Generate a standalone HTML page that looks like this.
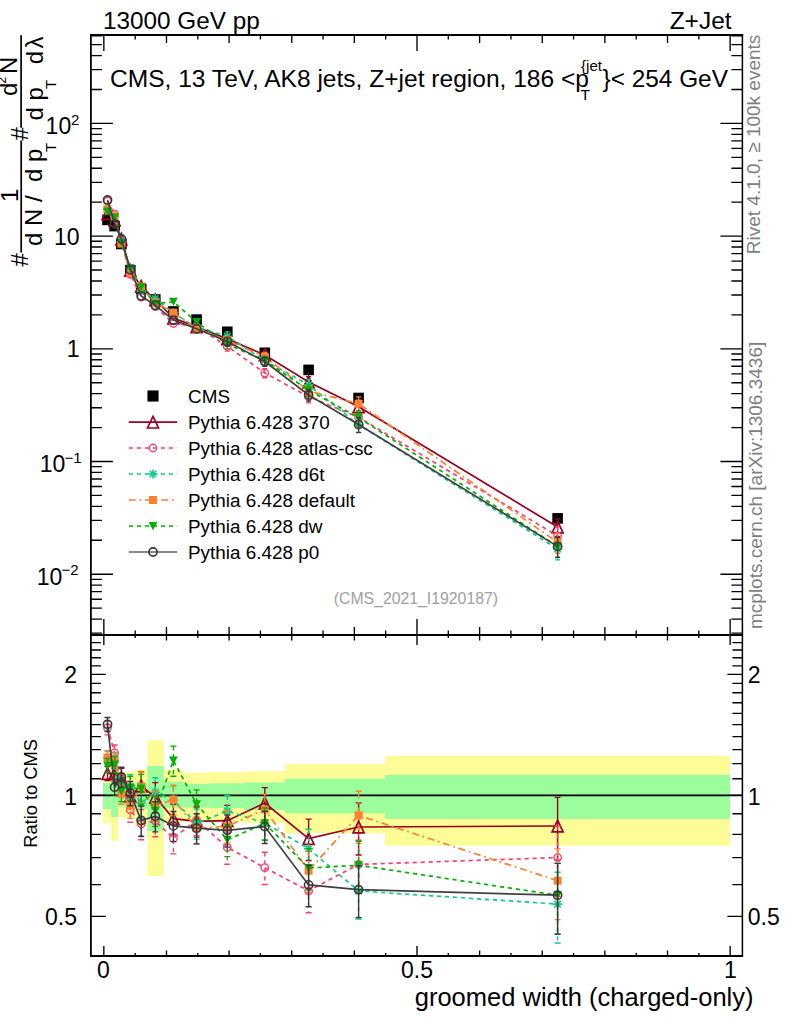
<!DOCTYPE html>
<html><head><meta charset="utf-8"><title>groomed width (charged-only)</title>
<style>html,body{margin:0;padding:0;background:#fff;overflow:hidden}svg{display:block}text{font-family:"Liberation Sans",Arial,Helvetica,sans-serif}</style></head><body>
<svg width="786" height="1024" viewBox="0 0 786 1024">
<rect width="786" height="1024" fill="#fff"/>
<rect x="103" y="778" width="8.1" height="45" fill="#fdfd98"/>
<rect x="103" y="783" width="8.1" height="26" fill="#9bfd9b"/>
<rect x="111.1" y="766" width="7" height="75" fill="#fdfd98"/>
<rect x="111.1" y="776" width="7" height="41" fill="#9bfd9b"/>
<rect x="118.1" y="772" width="6.4" height="45.5" fill="#fdfd98"/>
<rect x="118.1" y="783" width="6.4" height="23.5" fill="#9bfd9b"/>
<rect x="124.5" y="772" width="10.6" height="46" fill="#fdfd98"/>
<rect x="124.5" y="783" width="10.6" height="25" fill="#9bfd9b"/>
<rect x="135.1" y="769.4" width="12.3" height="56.8" fill="#fdfd98"/>
<rect x="135.1" y="782.4" width="12.3" height="26.6" fill="#9bfd9b"/>
<rect x="147.4" y="740.3" width="16.4" height="135.8" fill="#fdfd98"/>
<rect x="147.4" y="766" width="16.4" height="65" fill="#9bfd9b"/>
<rect x="163.8" y="769.4" width="19.4" height="52.6" fill="#fdfd98"/>
<rect x="163.8" y="781.7" width="19.4" height="26" fill="#9bfd9b"/>
<rect x="183.2" y="772.9" width="26.8" height="48.1" fill="#fdfd98"/>
<rect x="183.2" y="783.9" width="26.8" height="23.8" fill="#9bfd9b"/>
<rect x="210" y="772.1" width="34" height="49.7" fill="#fdfd98"/>
<rect x="210" y="783.3" width="34" height="24.7" fill="#9bfd9b"/>
<rect x="244" y="771.4" width="41" height="51.9" fill="#fdfd98"/>
<rect x="244" y="782.5" width="41" height="27.5" fill="#9bfd9b"/>
<rect x="285" y="764" width="100" height="69.2" fill="#fdfd98"/>
<rect x="285" y="778.7" width="100" height="34.7" fill="#9bfd9b"/>
<rect x="385" y="755.8" width="345" height="89.8" fill="#fdfd98"/>
<rect x="385" y="774.9" width="345" height="44" fill="#9bfd9b"/>
<path d="M90.9 795.4H742.4" stroke="#000" stroke-width="1.6"/>
<g clip-path="url(#cu)">
<rect x="102.2" y="214.6" width="10.6" height="10.6" fill="#000"/>
<rect x="109.3" y="220.8" width="10.6" height="10.6" fill="#000"/>
<rect x="116.1" y="238.7" width="10.6" height="10.6" fill="#000"/>
<rect x="125" y="265" width="10.6" height="10.6" fill="#000"/>
<rect x="135.9" y="283.7" width="10.6" height="10.6" fill="#000"/>
<rect x="150" y="294.2" width="10.6" height="10.6" fill="#000"/>
<rect x="168.1" y="306.2" width="10.6" height="10.6" fill="#000"/>
<rect x="191.3" y="314.3" width="10.6" height="10.6" fill="#000"/>
<rect x="222" y="326.5" width="10.6" height="10.6" fill="#000"/>
<rect x="259.5" y="347.5" width="10.6" height="10.6" fill="#000"/>
<rect x="303.3" y="364.6" width="10.6" height="10.6" fill="#000"/>
<rect x="353.3" y="392.7" width="10.6" height="10.6" fill="#000"/>
<rect x="552.3" y="513.1" width="10.6" height="10.6" fill="#000"/>
<polyline points="107.5,213.76 114.6,220.02 121.4,239.12 130.3,270.47 141.2,286.36 155.3,299.95 173.4,318 196.6,326.89 227.3,338.89 264.8,354.93 308.6,382.01 358.6,406.86 557.6,526.98" fill="none" stroke="#9a0020" stroke-width="1.7"/>
<path d="M107.5 207.96L113 219.56L102 219.56Z" fill="none" stroke="#9a0020" stroke-width="1.7" stroke-linejoin="miter"/>
<path d="M114.6 214.22L120.1 225.82L109.1 225.82Z" fill="none" stroke="#9a0020" stroke-width="1.7" stroke-linejoin="miter"/>
<path d="M121.4 233.32L126.9 244.92L115.9 244.92Z" fill="none" stroke="#9a0020" stroke-width="1.7" stroke-linejoin="miter"/>
<path d="M130.3 264.67L135.8 276.27L124.8 276.27Z" fill="none" stroke="#9a0020" stroke-width="1.7" stroke-linejoin="miter"/>
<path d="M141.2 280.56L146.7 292.16L135.7 292.16Z" fill="none" stroke="#9a0020" stroke-width="1.7" stroke-linejoin="miter"/>
<path d="M155.3 294.15L160.8 305.75L149.8 305.75Z" fill="none" stroke="#9a0020" stroke-width="1.7" stroke-linejoin="miter"/>
<path d="M173.4 312.2L178.9 323.8L167.9 323.8Z" fill="none" stroke="#9a0020" stroke-width="1.7" stroke-linejoin="miter"/>
<path d="M196.6 321.09L202.1 332.69L191.1 332.69Z" fill="none" stroke="#9a0020" stroke-width="1.7" stroke-linejoin="miter"/>
<path d="M227.3 334.59V343.62" stroke="#9a0020" stroke-width="1.3" fill="none"/><path d="M224.8 334.59H229.8M224.8 343.62H229.8" stroke="#9a0020" stroke-width="1.3" fill="none"/>
<path d="M227.3 333.09L232.8 344.69L221.8 344.69Z" fill="none" stroke="#9a0020" stroke-width="1.7" stroke-linejoin="miter"/>
<path d="M264.8 350.62V359.65" stroke="#9a0020" stroke-width="1.3" fill="none"/><path d="M262.3 350.62H267.3M262.3 359.65H267.3" stroke="#9a0020" stroke-width="1.3" fill="none"/>
<path d="M264.8 349.13L270.3 360.73L259.3 360.73Z" fill="none" stroke="#9a0020" stroke-width="1.7" stroke-linejoin="miter"/>
<path d="M308.6 376.55V388.16" stroke="#9a0020" stroke-width="1.3" fill="none"/><path d="M306.1 376.55H311.1M306.1 388.16H311.1" stroke="#9a0020" stroke-width="1.3" fill="none"/>
<path d="M308.6 376.21L314.1 387.81L303.1 387.81Z" fill="none" stroke="#9a0020" stroke-width="1.7" stroke-linejoin="miter"/>
<path d="M358.6 400.1V414.7" stroke="#9a0020" stroke-width="1.3" fill="none"/><path d="M356.1 400.1H361.1M356.1 414.7H361.1" stroke="#9a0020" stroke-width="1.3" fill="none"/>
<path d="M358.6 401.06L364.1 412.66L353.1 412.66Z" fill="none" stroke="#9a0020" stroke-width="1.7" stroke-linejoin="miter"/>
<path d="M557.6 518.96V536.57" stroke="#9a0020" stroke-width="1.3" fill="none"/><path d="M555.1 518.96H560.1M555.1 536.57H560.1" stroke="#9a0020" stroke-width="1.3" fill="none"/>
<path d="M557.6 521.18L563.1 532.78L552.1 532.78Z" fill="none" stroke="#9a0020" stroke-width="1.7" stroke-linejoin="miter"/>
<polyline points="107.5,200.92 114.6,214.16 121.4,240.8 130.3,274.34 141.2,297.02 155.3,306.68 173.4,323.5 196.6,326.5 227.3,346.38 264.8,373.04 308.6,396.65 358.6,417.34 557.6,535.84" fill="none" stroke="#ff3c6e" stroke-width="1.7" stroke-dasharray="4.2,3.8"/>
<circle cx="107.5" cy="200.92" r="3.7" fill="none" stroke="#ff3c6e" stroke-width="1.4"/>
<circle cx="114.6" cy="214.16" r="3.7" fill="none" stroke="#ff3c6e" stroke-width="1.4"/>
<circle cx="121.4" cy="240.8" r="3.7" fill="none" stroke="#ff3c6e" stroke-width="1.4"/>
<circle cx="130.3" cy="274.34" r="3.7" fill="none" stroke="#ff3c6e" stroke-width="1.4"/>
<circle cx="141.2" cy="297.02" r="3.7" fill="none" stroke="#ff3c6e" stroke-width="1.4"/>
<circle cx="155.3" cy="306.68" r="3.7" fill="none" stroke="#ff3c6e" stroke-width="1.4"/>
<circle cx="173.4" cy="323.5" r="3.7" fill="none" stroke="#ff3c6e" stroke-width="1.4"/>
<circle cx="196.6" cy="326.5" r="3.7" fill="none" stroke="#ff3c6e" stroke-width="1.4"/>
<path d="M227.3 342.07V351.1" stroke="#ff3c6e" stroke-width="1.3" fill="none" stroke-dasharray="4.2,3.8"/><path d="M224.8 342.07H229.8M224.8 351.1H229.8" stroke="#ff3c6e" stroke-width="1.3" fill="none"/>
<circle cx="227.3" cy="346.38" r="3.7" fill="none" stroke="#ff3c6e" stroke-width="1.4"/>
<path d="M264.8 368.73V377.76" stroke="#ff3c6e" stroke-width="1.3" fill="none" stroke-dasharray="4.2,3.8"/><path d="M262.3 368.73H267.3M262.3 377.76H267.3" stroke="#ff3c6e" stroke-width="1.3" fill="none"/>
<circle cx="264.8" cy="373.04" r="3.7" fill="none" stroke="#ff3c6e" stroke-width="1.4"/>
<path d="M308.6 391.19V402.79" stroke="#ff3c6e" stroke-width="1.3" fill="none" stroke-dasharray="4.2,3.8"/><path d="M306.1 391.19H311.1M306.1 402.79H311.1" stroke="#ff3c6e" stroke-width="1.3" fill="none"/>
<circle cx="308.6" cy="396.65" r="3.7" fill="none" stroke="#ff3c6e" stroke-width="1.4"/>
<path d="M358.6 410.59V425.18" stroke="#ff3c6e" stroke-width="1.3" fill="none" stroke-dasharray="4.2,3.8"/><path d="M356.1 410.59H361.1M356.1 425.18H361.1" stroke="#ff3c6e" stroke-width="1.3" fill="none"/>
<circle cx="358.6" cy="417.34" r="3.7" fill="none" stroke="#ff3c6e" stroke-width="1.4"/>
<path d="M557.6 526.91V546.76" stroke="#ff3c6e" stroke-width="1.3" fill="none" stroke-dasharray="4.2,3.8"/><path d="M555.1 526.91H560.1M555.1 546.76H560.1" stroke="#ff3c6e" stroke-width="1.3" fill="none"/>
<circle cx="557.6" cy="535.84" r="3.7" fill="none" stroke="#ff3c6e" stroke-width="1.4"/>
<polyline points="107.5,209.41 114.6,216.46 121.4,241.36 130.3,267.78 141.2,291.13 155.3,298.6 173.4,312.85 196.6,327.45 227.3,336.2 264.8,360.54 308.6,384.84 358.6,424.8 557.6,548.87" fill="none" stroke="#0ccc88" stroke-width="1.7" stroke-dasharray="4.2,3.8"/>
<path d="M102.9 209.41L112.1 209.41M104.25 206.16L110.75 212.67M107.5 204.81L107.5 214.01M110.75 206.16L104.25 212.67" stroke="#0ccc88" stroke-width="1.6" fill="none"/>
<path d="M110 216.46L119.2 216.46M111.35 213.2L117.85 219.71M114.6 211.86L114.6 221.06M117.85 213.2L111.35 219.71" stroke="#0ccc88" stroke-width="1.6" fill="none"/>
<path d="M116.8 241.36L126 241.36M118.15 238.11L124.65 244.62M121.4 236.76L121.4 245.96M124.65 238.11L118.15 244.62" stroke="#0ccc88" stroke-width="1.6" fill="none"/>
<path d="M125.7 267.78L134.9 267.78M127.05 264.52L133.55 271.03M130.3 263.18L130.3 272.38M133.55 264.52L127.05 271.03" stroke="#0ccc88" stroke-width="1.6" fill="none"/>
<path d="M136.6 291.13L145.8 291.13M137.95 287.88L144.45 294.38M141.2 286.53L141.2 295.73M144.45 287.88L137.95 294.38" stroke="#0ccc88" stroke-width="1.6" fill="none"/>
<path d="M150.7 298.6L159.9 298.6M152.05 295.35L158.55 301.86M155.3 294L155.3 303.2M158.55 295.35L152.05 301.86" stroke="#0ccc88" stroke-width="1.6" fill="none"/>
<path d="M168.8 312.85L178 312.85M170.15 309.59L176.65 316.1M173.4 308.25L173.4 317.45M176.65 309.59L170.15 316.1" stroke="#0ccc88" stroke-width="1.6" fill="none"/>
<path d="M192 327.45L201.2 327.45M193.35 324.2L199.85 330.7M196.6 322.85L196.6 332.05M199.85 324.2L193.35 330.7" stroke="#0ccc88" stroke-width="1.6" fill="none"/>
<path d="M227.3 331.89V340.93" stroke="#0ccc88" stroke-width="1.3" fill="none" stroke-dasharray="4.2,3.8"/><path d="M224.8 331.89H229.8M224.8 340.93H229.8" stroke="#0ccc88" stroke-width="1.3" fill="none"/>
<path d="M222.7 336.2L231.9 336.2M224.05 332.95L230.55 339.45M227.3 331.6L227.3 340.8M230.55 332.95L224.05 339.45" stroke="#0ccc88" stroke-width="1.6" fill="none"/>
<path d="M264.8 356.23V365.26" stroke="#0ccc88" stroke-width="1.3" fill="none" stroke-dasharray="4.2,3.8"/><path d="M262.3 356.23H267.3M262.3 365.26H267.3" stroke="#0ccc88" stroke-width="1.3" fill="none"/>
<path d="M260.2 360.54L269.4 360.54M261.55 357.28L268.05 363.79M264.8 355.94L264.8 365.14M268.05 357.28L261.55 363.79" stroke="#0ccc88" stroke-width="1.6" fill="none"/>
<path d="M308.6 379.38V390.99" stroke="#0ccc88" stroke-width="1.3" fill="none" stroke-dasharray="4.2,3.8"/><path d="M306.1 379.38H311.1M306.1 390.99H311.1" stroke="#0ccc88" stroke-width="1.3" fill="none"/>
<path d="M304 384.84L313.2 384.84M305.35 381.59L311.85 388.1M308.6 380.24L308.6 389.44M311.85 381.59L305.35 388.1" stroke="#0ccc88" stroke-width="1.6" fill="none"/>
<path d="M358.6 418.05V432.64" stroke="#0ccc88" stroke-width="1.3" fill="none" stroke-dasharray="4.2,3.8"/><path d="M356.1 418.05H361.1M356.1 432.64H361.1" stroke="#0ccc88" stroke-width="1.3" fill="none"/>
<path d="M354 424.8L363.2 424.8M355.35 421.55L361.85 428.05M358.6 420.2L358.6 429.4M361.85 421.55L355.35 428.05" stroke="#0ccc88" stroke-width="1.6" fill="none"/>
<path d="M557.6 539.95V559.8" stroke="#0ccc88" stroke-width="1.3" fill="none" stroke-dasharray="4.2,3.8"/><path d="M555.1 539.95H560.1M555.1 559.8H560.1" stroke="#0ccc88" stroke-width="1.3" fill="none"/>
<path d="M553 548.87L562.2 548.87M554.35 545.62L560.85 552.13M557.6 544.27L557.6 553.47M560.85 545.62L554.35 552.13" stroke="#0ccc88" stroke-width="1.6" fill="none"/>
<polyline points="107.5,209.27 114.6,216.23 121.4,243.61 130.3,273.24 141.2,286.48 155.3,302.44 173.4,312.65 196.6,328.8 227.3,340.43 264.8,356.75 308.6,390.98 358.6,403.61 557.6,542.31" fill="none" stroke="#ff8030" stroke-width="1.7" stroke-dasharray="7,3.7,1.8,3.7"/>
<rect x="103.5" y="205.27" width="8" height="8" fill="#ff8030"/>
<rect x="110.6" y="212.23" width="8" height="8" fill="#ff8030"/>
<rect x="117.4" y="239.61" width="8" height="8" fill="#ff8030"/>
<rect x="126.3" y="269.24" width="8" height="8" fill="#ff8030"/>
<rect x="137.2" y="282.48" width="8" height="8" fill="#ff8030"/>
<rect x="151.3" y="298.44" width="8" height="8" fill="#ff8030"/>
<rect x="169.4" y="308.65" width="8" height="8" fill="#ff8030"/>
<rect x="192.6" y="324.8" width="8" height="8" fill="#ff8030"/>
<path d="M227.3 336.13V345.16" stroke="#ff8030" stroke-width="1.3" fill="none" stroke-dasharray="7,3.7,1.8,3.7"/><path d="M224.8 336.13H229.8M224.8 345.16H229.8" stroke="#ff8030" stroke-width="1.3" fill="none"/>
<rect x="223.3" y="336.43" width="8" height="8" fill="#ff8030"/>
<path d="M264.8 352.45V361.48" stroke="#ff8030" stroke-width="1.3" fill="none" stroke-dasharray="7,3.7,1.8,3.7"/><path d="M262.3 352.45H267.3M262.3 361.48H267.3" stroke="#ff8030" stroke-width="1.3" fill="none"/>
<rect x="260.8" y="352.75" width="8" height="8" fill="#ff8030"/>
<path d="M308.6 385.52V397.13" stroke="#ff8030" stroke-width="1.3" fill="none" stroke-dasharray="7,3.7,1.8,3.7"/><path d="M306.1 385.52H311.1M306.1 397.13H311.1" stroke="#ff8030" stroke-width="1.3" fill="none"/>
<rect x="304.6" y="386.98" width="8" height="8" fill="#ff8030"/>
<path d="M358.6 396.85V411.45" stroke="#ff8030" stroke-width="1.3" fill="none" stroke-dasharray="7,3.7,1.8,3.7"/><path d="M356.1 396.85H361.1M356.1 411.45H361.1" stroke="#ff8030" stroke-width="1.3" fill="none"/>
<rect x="354.6" y="399.61" width="8" height="8" fill="#ff8030"/>
<path d="M557.6 533.39V553.24" stroke="#ff8030" stroke-width="1.3" fill="none" stroke-dasharray="7,3.7,1.8,3.7"/><path d="M555.1 533.39H560.1M555.1 553.24H560.1" stroke="#ff8030" stroke-width="1.3" fill="none"/>
<rect x="553.6" y="538.31" width="8" height="8" fill="#ff8030"/>
<polyline points="107.5,211.49 114.6,217.41 121.4,242.88 130.3,268.23 141.2,287.15 155.3,303.82 173.4,301.72 196.6,322.1 227.3,344.25 264.8,360.65 308.6,390.25 358.6,417.6 557.6,546.38" fill="none" stroke="#00b000" stroke-width="1.7" stroke-dasharray="4.2,3.8"/>
<path d="M103.1 207.49L111.9 207.49L107.5 215.69Z" fill="#00b000"/>
<path d="M110.2 213.41L119 213.41L114.6 221.61Z" fill="#00b000"/>
<path d="M117 238.88L125.8 238.88L121.4 247.08Z" fill="#00b000"/>
<path d="M125.9 264.23L134.7 264.23L130.3 272.43Z" fill="#00b000"/>
<path d="M136.8 283.15L145.6 283.15L141.2 291.35Z" fill="#00b000"/>
<path d="M150.9 299.82L159.7 299.82L155.3 308.02Z" fill="#00b000"/>
<path d="M169 297.72L177.8 297.72L173.4 305.92Z" fill="#00b000"/>
<path d="M192.2 318.1L201 318.1L196.6 326.3Z" fill="#00b000"/>
<path d="M227.3 339.94V348.97" stroke="#00b000" stroke-width="1.3" fill="none" stroke-dasharray="4.2,3.8"/><path d="M224.8 339.94H229.8M224.8 348.97H229.8" stroke="#00b000" stroke-width="1.3" fill="none"/>
<path d="M222.9 340.25L231.7 340.25L227.3 348.45Z" fill="#00b000"/>
<path d="M264.8 356.34V365.37" stroke="#00b000" stroke-width="1.3" fill="none" stroke-dasharray="4.2,3.8"/><path d="M262.3 356.34H267.3M262.3 365.37H267.3" stroke="#00b000" stroke-width="1.3" fill="none"/>
<path d="M260.4 356.65L269.2 356.65L264.8 364.85Z" fill="#00b000"/>
<path d="M308.6 384.79V396.4" stroke="#00b000" stroke-width="1.3" fill="none" stroke-dasharray="4.2,3.8"/><path d="M306.1 384.79H311.1M306.1 396.4H311.1" stroke="#00b000" stroke-width="1.3" fill="none"/>
<path d="M304.2 386.25L313 386.25L308.6 394.45Z" fill="#00b000"/>
<path d="M358.6 410.84V425.44" stroke="#00b000" stroke-width="1.3" fill="none" stroke-dasharray="4.2,3.8"/><path d="M356.1 410.84H361.1M356.1 425.44H361.1" stroke="#00b000" stroke-width="1.3" fill="none"/>
<path d="M354.2 413.6L363 413.6L358.6 421.8Z" fill="#00b000"/>
<path d="M557.6 537.46V557.3" stroke="#00b000" stroke-width="1.3" fill="none" stroke-dasharray="4.2,3.8"/><path d="M555.1 537.46H560.1M555.1 557.3H560.1" stroke="#00b000" stroke-width="1.3" fill="none"/>
<path d="M553.2 542.38L562 542.38L557.6 550.58Z" fill="#00b000"/>
<polyline points="107.5,199.97 114.6,223.8 121.4,238.84 130.3,269.68 141.2,296.04 155.3,305.33 173.4,320.05 196.6,328.8 227.3,341.58 264.8,361.55 308.6,394.99 358.6,424.44 557.6,546.38" fill="none" stroke="#404040" stroke-width="1.7"/>
<circle cx="107.5" cy="199.97" r="4.1" fill="none" stroke="#383838" stroke-width="1.6"/>
<circle cx="114.6" cy="223.8" r="4.1" fill="none" stroke="#383838" stroke-width="1.6"/>
<circle cx="121.4" cy="238.84" r="4.1" fill="none" stroke="#383838" stroke-width="1.6"/>
<circle cx="130.3" cy="269.68" r="4.1" fill="none" stroke="#383838" stroke-width="1.6"/>
<circle cx="141.2" cy="296.04" r="4.1" fill="none" stroke="#383838" stroke-width="1.6"/>
<circle cx="155.3" cy="305.33" r="4.1" fill="none" stroke="#383838" stroke-width="1.6"/>
<circle cx="173.4" cy="320.05" r="4.1" fill="none" stroke="#383838" stroke-width="1.6"/>
<circle cx="196.6" cy="328.8" r="4.1" fill="none" stroke="#383838" stroke-width="1.6"/>
<path d="M227.3 337.28V346.31" stroke="#383838" stroke-width="1.3" fill="none"/><path d="M224.8 337.28H229.8M224.8 346.31H229.8" stroke="#383838" stroke-width="1.3" fill="none"/>
<circle cx="227.3" cy="341.58" r="4.1" fill="none" stroke="#383838" stroke-width="1.6"/>
<path d="M264.8 357.24V366.27" stroke="#383838" stroke-width="1.3" fill="none"/><path d="M262.3 357.24H267.3M262.3 366.27H267.3" stroke="#383838" stroke-width="1.3" fill="none"/>
<circle cx="264.8" cy="361.55" r="4.1" fill="none" stroke="#383838" stroke-width="1.6"/>
<path d="M308.6 389.53V401.14" stroke="#383838" stroke-width="1.3" fill="none"/><path d="M306.1 389.53H311.1M306.1 401.14H311.1" stroke="#383838" stroke-width="1.3" fill="none"/>
<circle cx="308.6" cy="394.99" r="4.1" fill="none" stroke="#383838" stroke-width="1.6"/>
<path d="M358.6 417.68V432.28" stroke="#383838" stroke-width="1.3" fill="none"/><path d="M356.1 417.68H361.1M356.1 432.28H361.1" stroke="#383838" stroke-width="1.3" fill="none"/>
<circle cx="358.6" cy="424.44" r="4.1" fill="none" stroke="#383838" stroke-width="1.6"/>
<path d="M557.6 537.46V557.3" stroke="#383838" stroke-width="1.3" fill="none"/><path d="M555.1 537.46H560.1M555.1 557.3H560.1" stroke="#383838" stroke-width="1.3" fill="none"/>
<circle cx="557.6" cy="546.38" r="4.1" fill="none" stroke="#383838" stroke-width="1.6"/>
</g>
<g clip-path="url(#cl)">
<polyline points="107.5,773.5 114.6,773.7 121.4,778 130.3,796 141.2,786 155.3,797 173.4,818.6 196.6,821.4 227.3,820.7 264.8,803 308.6,838.6 358.6,827 557.6,826" fill="none" stroke="#9a0020" stroke-width="1.7"/>
<path d="M107.5 766.65V780.63" stroke="#9a0020" stroke-width="1.4" fill="none"/><path d="M104.5 766.65H110.5M104.5 780.63H110.5" stroke="#9a0020" stroke-width="1.4" fill="none"/>
<path d="M107.5 767.7L113 779.3L102 779.3Z" fill="none" stroke="#9a0020" stroke-width="1.7" stroke-linejoin="miter"/>
<path d="M114.6 765.85V781.92" stroke="#9a0020" stroke-width="1.4" fill="none"/><path d="M111.6 765.85H117.6M111.6 781.92H117.6" stroke="#9a0020" stroke-width="1.4" fill="none"/>
<path d="M114.6 767.9L120.1 779.5L109.1 779.5Z" fill="none" stroke="#9a0020" stroke-width="1.7" stroke-linejoin="miter"/>
<path d="M121.4 768.32V788.25" stroke="#9a0020" stroke-width="1.4" fill="none"/><path d="M118.4 768.32H124.4M118.4 788.25H124.4" stroke="#9a0020" stroke-width="1.4" fill="none"/>
<path d="M121.4 772.2L126.9 783.8L115.9 783.8Z" fill="none" stroke="#9a0020" stroke-width="1.7" stroke-linejoin="miter"/>
<path d="M130.3 784.35V808.48" stroke="#9a0020" stroke-width="1.4" fill="none"/><path d="M127.3 784.35H133.3M127.3 808.48H133.3" stroke="#9a0020" stroke-width="1.4" fill="none"/>
<path d="M130.3 790.2L135.8 801.8L124.8 801.8Z" fill="none" stroke="#9a0020" stroke-width="1.7" stroke-linejoin="miter"/>
<path d="M141.2 771.6V801.7" stroke="#9a0020" stroke-width="1.4" fill="none"/><path d="M138.2 771.6H144.2M138.2 801.7H144.2" stroke="#9a0020" stroke-width="1.4" fill="none"/>
<path d="M141.2 780.2L146.7 791.8L135.7 791.8Z" fill="none" stroke="#9a0020" stroke-width="1.7" stroke-linejoin="miter"/>
<path d="M155.3 782.6V812.7" stroke="#9a0020" stroke-width="1.4" fill="none"/><path d="M152.3 782.6H158.3M152.3 812.7H158.3" stroke="#9a0020" stroke-width="1.4" fill="none"/>
<path d="M155.3 791.2L160.8 802.8L149.8 802.8Z" fill="none" stroke="#9a0020" stroke-width="1.7" stroke-linejoin="miter"/>
<path d="M173.4 804.2V834.3" stroke="#9a0020" stroke-width="1.4" fill="none"/><path d="M170.4 804.2H176.4M170.4 834.3H176.4" stroke="#9a0020" stroke-width="1.4" fill="none"/>
<path d="M173.4 812.8L178.9 824.4L167.9 824.4Z" fill="none" stroke="#9a0020" stroke-width="1.7" stroke-linejoin="miter"/>
<path d="M196.6 807V837.1" stroke="#9a0020" stroke-width="1.4" fill="none"/><path d="M193.6 807H199.6M193.6 837.1H199.6" stroke="#9a0020" stroke-width="1.4" fill="none"/>
<path d="M196.6 815.6L202.1 827.2L191.1 827.2Z" fill="none" stroke="#9a0020" stroke-width="1.7" stroke-linejoin="miter"/>
<path d="M227.3 805.33V837.55" stroke="#9a0020" stroke-width="1.4" fill="none"/><path d="M224.3 805.33H230.3M224.3 837.55H230.3" stroke="#9a0020" stroke-width="1.4" fill="none"/>
<path d="M227.3 814.9L232.8 826.5L221.8 826.5Z" fill="none" stroke="#9a0020" stroke-width="1.7" stroke-linejoin="miter"/>
<path d="M264.8 787.63V819.85" stroke="#9a0020" stroke-width="1.4" fill="none"/><path d="M261.8 787.63H267.8M261.8 819.85H267.8" stroke="#9a0020" stroke-width="1.4" fill="none"/>
<path d="M264.8 797.2L270.3 808.8L259.3 808.8Z" fill="none" stroke="#9a0020" stroke-width="1.7" stroke-linejoin="miter"/>
<path d="M308.6 819.13V860.52" stroke="#9a0020" stroke-width="1.4" fill="none"/><path d="M305.6 819.13H311.6M305.6 860.52H311.6" stroke="#9a0020" stroke-width="1.4" fill="none"/>
<path d="M308.6 832.8L314.1 844.4L303.1 844.4Z" fill="none" stroke="#9a0020" stroke-width="1.7" stroke-linejoin="miter"/>
<path d="M358.6 802.9V854.96" stroke="#9a0020" stroke-width="1.4" fill="none"/><path d="M355.6 802.9H361.6M355.6 854.96H361.6" stroke="#9a0020" stroke-width="1.4" fill="none"/>
<path d="M358.6 821.2L364.1 832.8L353.1 832.8Z" fill="none" stroke="#9a0020" stroke-width="1.7" stroke-linejoin="miter"/>
<path d="M557.6 797.4V860.22" stroke="#9a0020" stroke-width="1.4" fill="none"/><path d="M554.6 797.4H560.6M554.6 860.22H560.6" stroke="#9a0020" stroke-width="1.4" fill="none"/>
<path d="M557.6 820.2L563.1 831.8L552.1 831.8Z" fill="none" stroke="#9a0020" stroke-width="1.7" stroke-linejoin="miter"/>
<polyline points="107.5,727.7 114.6,752.8 121.4,784 130.3,809.8 141.2,824 155.3,821 173.4,838.2 196.6,820 227.3,847.4 264.8,867.6 308.6,890.8 358.6,864.4 557.6,857.6" fill="none" stroke="#ff3c6e" stroke-width="1.7" stroke-dasharray="4.2,3.8"/>
<path d="M107.5 720.85V734.83" stroke="#ff3c6e" stroke-width="1.4" fill="none" stroke-dasharray="4.2,3.8"/><path d="M104.5 720.85H110.5M104.5 734.83H110.5" stroke="#ff3c6e" stroke-width="1.4" fill="none"/>
<circle cx="107.5" cy="727.7" r="3.7" fill="none" stroke="#ff3c6e" stroke-width="1.4"/>
<path d="M114.6 744.95V761.02" stroke="#ff3c6e" stroke-width="1.4" fill="none" stroke-dasharray="4.2,3.8"/><path d="M111.6 744.95H117.6M111.6 761.02H117.6" stroke="#ff3c6e" stroke-width="1.4" fill="none"/>
<circle cx="114.6" cy="752.8" r="3.7" fill="none" stroke="#ff3c6e" stroke-width="1.4"/>
<path d="M121.4 774.32V794.25" stroke="#ff3c6e" stroke-width="1.4" fill="none" stroke-dasharray="4.2,3.8"/><path d="M118.4 774.32H124.4M118.4 794.25H124.4" stroke="#ff3c6e" stroke-width="1.4" fill="none"/>
<circle cx="121.4" cy="784" r="3.7" fill="none" stroke="#ff3c6e" stroke-width="1.4"/>
<path d="M130.3 798.15V822.28" stroke="#ff3c6e" stroke-width="1.4" fill="none" stroke-dasharray="4.2,3.8"/><path d="M127.3 798.15H133.3M127.3 822.28H133.3" stroke="#ff3c6e" stroke-width="1.4" fill="none"/>
<circle cx="130.3" cy="809.8" r="3.7" fill="none" stroke="#ff3c6e" stroke-width="1.4"/>
<path d="M141.2 809.6V839.7" stroke="#ff3c6e" stroke-width="1.4" fill="none" stroke-dasharray="4.2,3.8"/><path d="M138.2 809.6H144.2M138.2 839.7H144.2" stroke="#ff3c6e" stroke-width="1.4" fill="none"/>
<circle cx="141.2" cy="824" r="3.7" fill="none" stroke="#ff3c6e" stroke-width="1.4"/>
<path d="M155.3 806.6V836.7" stroke="#ff3c6e" stroke-width="1.4" fill="none" stroke-dasharray="4.2,3.8"/><path d="M152.3 806.6H158.3M152.3 836.7H158.3" stroke="#ff3c6e" stroke-width="1.4" fill="none"/>
<circle cx="155.3" cy="821" r="3.7" fill="none" stroke="#ff3c6e" stroke-width="1.4"/>
<path d="M173.4 823.8V853.9" stroke="#ff3c6e" stroke-width="1.4" fill="none" stroke-dasharray="4.2,3.8"/><path d="M170.4 823.8H176.4M170.4 853.9H176.4" stroke="#ff3c6e" stroke-width="1.4" fill="none"/>
<circle cx="173.4" cy="838.2" r="3.7" fill="none" stroke="#ff3c6e" stroke-width="1.4"/>
<path d="M196.6 805.6V835.7" stroke="#ff3c6e" stroke-width="1.4" fill="none" stroke-dasharray="4.2,3.8"/><path d="M193.6 805.6H199.6M193.6 835.7H199.6" stroke="#ff3c6e" stroke-width="1.4" fill="none"/>
<circle cx="196.6" cy="820" r="3.7" fill="none" stroke="#ff3c6e" stroke-width="1.4"/>
<path d="M227.3 832.03V864.25" stroke="#ff3c6e" stroke-width="1.4" fill="none" stroke-dasharray="4.2,3.8"/><path d="M224.3 832.03H230.3M224.3 864.25H230.3" stroke="#ff3c6e" stroke-width="1.4" fill="none"/>
<circle cx="227.3" cy="847.4" r="3.7" fill="none" stroke="#ff3c6e" stroke-width="1.4"/>
<path d="M264.8 852.23V884.45" stroke="#ff3c6e" stroke-width="1.4" fill="none" stroke-dasharray="4.2,3.8"/><path d="M261.8 852.23H267.8M261.8 884.45H267.8" stroke="#ff3c6e" stroke-width="1.4" fill="none"/>
<circle cx="264.8" cy="867.6" r="3.7" fill="none" stroke="#ff3c6e" stroke-width="1.4"/>
<path d="M308.6 871.33V912.72" stroke="#ff3c6e" stroke-width="1.4" fill="none" stroke-dasharray="4.2,3.8"/><path d="M305.6 871.33H311.6M305.6 912.72H311.6" stroke="#ff3c6e" stroke-width="1.4" fill="none"/>
<circle cx="308.6" cy="890.8" r="3.7" fill="none" stroke="#ff3c6e" stroke-width="1.4"/>
<path d="M358.6 840.3V892.36" stroke="#ff3c6e" stroke-width="1.4" fill="none" stroke-dasharray="4.2,3.8"/><path d="M355.6 840.3H361.6M355.6 892.36H361.6" stroke="#ff3c6e" stroke-width="1.4" fill="none"/>
<circle cx="358.6" cy="864.4" r="3.7" fill="none" stroke="#ff3c6e" stroke-width="1.4"/>
<path d="M557.6 825.77V896.56" stroke="#ff3c6e" stroke-width="1.4" fill="none" stroke-dasharray="4.2,3.8"/><path d="M554.6 825.77H560.6M554.6 896.56H560.6" stroke="#ff3c6e" stroke-width="1.4" fill="none"/>
<circle cx="557.6" cy="857.6" r="3.7" fill="none" stroke="#ff3c6e" stroke-width="1.4"/>
<polyline points="107.5,758 114.6,761 121.4,786 130.3,786.4 141.2,803 155.3,792.2 173.4,800.2 196.6,823.4 227.3,811.1 264.8,823 308.6,848.7 358.6,891 557.6,904.1" fill="none" stroke="#0ccc88" stroke-width="1.7" stroke-dasharray="4.2,3.8"/>
<path d="M107.5 751.15V765.13" stroke="#0ccc88" stroke-width="1.4" fill="none" stroke-dasharray="4.2,3.8"/><path d="M104.5 751.15H110.5M104.5 765.13H110.5" stroke="#0ccc88" stroke-width="1.4" fill="none"/>
<path d="M102.9 758L112.1 758M104.25 754.75L110.75 761.25M107.5 753.4L107.5 762.6M110.75 754.75L104.25 761.25" stroke="#0ccc88" stroke-width="1.6" fill="none"/>
<path d="M114.6 753.15V769.22" stroke="#0ccc88" stroke-width="1.4" fill="none" stroke-dasharray="4.2,3.8"/><path d="M111.6 753.15H117.6M111.6 769.22H117.6" stroke="#0ccc88" stroke-width="1.4" fill="none"/>
<path d="M110 761L119.2 761M111.35 757.75L117.85 764.25M114.6 756.4L114.6 765.6M117.85 757.75L111.35 764.25" stroke="#0ccc88" stroke-width="1.6" fill="none"/>
<path d="M121.4 776.32V796.25" stroke="#0ccc88" stroke-width="1.4" fill="none" stroke-dasharray="4.2,3.8"/><path d="M118.4 776.32H124.4M118.4 796.25H124.4" stroke="#0ccc88" stroke-width="1.4" fill="none"/>
<path d="M116.8 786L126 786M118.15 782.75L124.65 789.25M121.4 781.4L121.4 790.6M124.65 782.75L118.15 789.25" stroke="#0ccc88" stroke-width="1.6" fill="none"/>
<path d="M130.3 774.75V798.88" stroke="#0ccc88" stroke-width="1.4" fill="none" stroke-dasharray="4.2,3.8"/><path d="M127.3 774.75H133.3M127.3 798.88H133.3" stroke="#0ccc88" stroke-width="1.4" fill="none"/>
<path d="M125.7 786.4L134.9 786.4M127.05 783.15L133.55 789.65M130.3 781.8L130.3 791M133.55 783.15L127.05 789.65" stroke="#0ccc88" stroke-width="1.6" fill="none"/>
<path d="M141.2 788.6V818.7" stroke="#0ccc88" stroke-width="1.4" fill="none" stroke-dasharray="4.2,3.8"/><path d="M138.2 788.6H144.2M138.2 818.7H144.2" stroke="#0ccc88" stroke-width="1.4" fill="none"/>
<path d="M136.6 803L145.8 803M137.95 799.75L144.45 806.25M141.2 798.4L141.2 807.6M144.45 799.75L137.95 806.25" stroke="#0ccc88" stroke-width="1.6" fill="none"/>
<path d="M155.3 777.8V807.9" stroke="#0ccc88" stroke-width="1.4" fill="none" stroke-dasharray="4.2,3.8"/><path d="M152.3 777.8H158.3M152.3 807.9H158.3" stroke="#0ccc88" stroke-width="1.4" fill="none"/>
<path d="M150.7 792.2L159.9 792.2M152.05 788.95L158.55 795.45M155.3 787.6L155.3 796.8M158.55 788.95L152.05 795.45" stroke="#0ccc88" stroke-width="1.6" fill="none"/>
<path d="M173.4 785.8V815.9" stroke="#0ccc88" stroke-width="1.4" fill="none" stroke-dasharray="4.2,3.8"/><path d="M170.4 785.8H176.4M170.4 815.9H176.4" stroke="#0ccc88" stroke-width="1.4" fill="none"/>
<path d="M168.8 800.2L178 800.2M170.15 796.95L176.65 803.45M173.4 795.6L173.4 804.8M176.65 796.95L170.15 803.45" stroke="#0ccc88" stroke-width="1.6" fill="none"/>
<path d="M196.6 809V839.1" stroke="#0ccc88" stroke-width="1.4" fill="none" stroke-dasharray="4.2,3.8"/><path d="M193.6 809H199.6M193.6 839.1H199.6" stroke="#0ccc88" stroke-width="1.4" fill="none"/>
<path d="M192 823.4L201.2 823.4M193.35 820.15L199.85 826.65M196.6 818.8L196.6 828M199.85 820.15L193.35 826.65" stroke="#0ccc88" stroke-width="1.6" fill="none"/>
<path d="M227.3 795.73V827.95" stroke="#0ccc88" stroke-width="1.4" fill="none" stroke-dasharray="4.2,3.8"/><path d="M224.3 795.73H230.3M224.3 827.95H230.3" stroke="#0ccc88" stroke-width="1.4" fill="none"/>
<path d="M222.7 811.1L231.9 811.1M224.05 807.85L230.55 814.35M227.3 806.5L227.3 815.7M230.55 807.85L224.05 814.35" stroke="#0ccc88" stroke-width="1.6" fill="none"/>
<path d="M264.8 807.63V839.85" stroke="#0ccc88" stroke-width="1.4" fill="none" stroke-dasharray="4.2,3.8"/><path d="M261.8 807.63H267.8M261.8 839.85H267.8" stroke="#0ccc88" stroke-width="1.4" fill="none"/>
<path d="M260.2 823L269.4 823M261.55 819.75L268.05 826.25M264.8 818.4L264.8 827.6M268.05 819.75L261.55 826.25" stroke="#0ccc88" stroke-width="1.6" fill="none"/>
<path d="M308.6 829.23V870.62" stroke="#0ccc88" stroke-width="1.4" fill="none" stroke-dasharray="4.2,3.8"/><path d="M305.6 829.23H311.6M305.6 870.62H311.6" stroke="#0ccc88" stroke-width="1.4" fill="none"/>
<path d="M304 848.7L313.2 848.7M305.35 845.45L311.85 851.95M308.6 844.1L308.6 853.3M311.85 845.45L305.35 851.95" stroke="#0ccc88" stroke-width="1.6" fill="none"/>
<path d="M358.6 866.9V918.96" stroke="#0ccc88" stroke-width="1.4" fill="none" stroke-dasharray="4.2,3.8"/><path d="M355.6 866.9H361.6M355.6 918.96H361.6" stroke="#0ccc88" stroke-width="1.4" fill="none"/>
<path d="M354 891L363.2 891M355.35 887.75L361.85 894.25M358.6 886.4L358.6 895.6M361.85 887.75L355.35 894.25" stroke="#0ccc88" stroke-width="1.6" fill="none"/>
<path d="M557.6 872.27V943.06" stroke="#0ccc88" stroke-width="1.4" fill="none" stroke-dasharray="4.2,3.8"/><path d="M554.6 872.27H560.6M554.6 943.06H560.6" stroke="#0ccc88" stroke-width="1.4" fill="none"/>
<path d="M553 904.1L562.2 904.1M554.35 900.85L560.85 907.35M557.6 899.5L557.6 908.7M560.85 900.85L554.35 907.35" stroke="#0ccc88" stroke-width="1.6" fill="none"/>
<polyline points="107.5,757.5 114.6,760.2 121.4,794 130.3,805.9 141.2,786.4 155.3,805.9 173.4,799.5 196.6,828.2 227.3,826.2 264.8,809.5 308.6,870.6 358.6,815.4 557.6,880.7" fill="none" stroke="#ff8030" stroke-width="1.7" stroke-dasharray="7,3.7,1.8,3.7"/>
<path d="M107.5 750.65V764.63" stroke="#ff8030" stroke-width="1.4" fill="none" stroke-dasharray="7,3.7,1.8,3.7"/><path d="M104.5 750.65H110.5M104.5 764.63H110.5" stroke="#ff8030" stroke-width="1.4" fill="none"/>
<rect x="103.5" y="753.5" width="8" height="8" fill="#ff8030"/>
<path d="M114.6 752.35V768.42" stroke="#ff8030" stroke-width="1.4" fill="none" stroke-dasharray="7,3.7,1.8,3.7"/><path d="M111.6 752.35H117.6M111.6 768.42H117.6" stroke="#ff8030" stroke-width="1.4" fill="none"/>
<rect x="110.6" y="756.2" width="8" height="8" fill="#ff8030"/>
<path d="M121.4 784.32V804.25" stroke="#ff8030" stroke-width="1.4" fill="none" stroke-dasharray="7,3.7,1.8,3.7"/><path d="M118.4 784.32H124.4M118.4 804.25H124.4" stroke="#ff8030" stroke-width="1.4" fill="none"/>
<rect x="117.4" y="790" width="8" height="8" fill="#ff8030"/>
<path d="M130.3 794.25V818.38" stroke="#ff8030" stroke-width="1.4" fill="none" stroke-dasharray="7,3.7,1.8,3.7"/><path d="M127.3 794.25H133.3M127.3 818.38H133.3" stroke="#ff8030" stroke-width="1.4" fill="none"/>
<rect x="126.3" y="801.9" width="8" height="8" fill="#ff8030"/>
<path d="M141.2 772V802.1" stroke="#ff8030" stroke-width="1.4" fill="none" stroke-dasharray="7,3.7,1.8,3.7"/><path d="M138.2 772H144.2M138.2 802.1H144.2" stroke="#ff8030" stroke-width="1.4" fill="none"/>
<rect x="137.2" y="782.4" width="8" height="8" fill="#ff8030"/>
<path d="M155.3 791.5V821.6" stroke="#ff8030" stroke-width="1.4" fill="none" stroke-dasharray="7,3.7,1.8,3.7"/><path d="M152.3 791.5H158.3M152.3 821.6H158.3" stroke="#ff8030" stroke-width="1.4" fill="none"/>
<rect x="151.3" y="801.9" width="8" height="8" fill="#ff8030"/>
<path d="M173.4 785.1V815.2" stroke="#ff8030" stroke-width="1.4" fill="none" stroke-dasharray="7,3.7,1.8,3.7"/><path d="M170.4 785.1H176.4M170.4 815.2H176.4" stroke="#ff8030" stroke-width="1.4" fill="none"/>
<rect x="169.4" y="795.5" width="8" height="8" fill="#ff8030"/>
<path d="M196.6 813.8V843.9" stroke="#ff8030" stroke-width="1.4" fill="none" stroke-dasharray="7,3.7,1.8,3.7"/><path d="M193.6 813.8H199.6M193.6 843.9H199.6" stroke="#ff8030" stroke-width="1.4" fill="none"/>
<rect x="192.6" y="824.2" width="8" height="8" fill="#ff8030"/>
<path d="M227.3 810.83V843.05" stroke="#ff8030" stroke-width="1.4" fill="none" stroke-dasharray="7,3.7,1.8,3.7"/><path d="M224.3 810.83H230.3M224.3 843.05H230.3" stroke="#ff8030" stroke-width="1.4" fill="none"/>
<rect x="223.3" y="822.2" width="8" height="8" fill="#ff8030"/>
<path d="M264.8 794.13V826.35" stroke="#ff8030" stroke-width="1.4" fill="none" stroke-dasharray="7,3.7,1.8,3.7"/><path d="M261.8 794.13H267.8M261.8 826.35H267.8" stroke="#ff8030" stroke-width="1.4" fill="none"/>
<rect x="260.8" y="805.5" width="8" height="8" fill="#ff8030"/>
<path d="M308.6 851.13V892.52" stroke="#ff8030" stroke-width="1.4" fill="none" stroke-dasharray="7,3.7,1.8,3.7"/><path d="M305.6 851.13H311.6M305.6 892.52H311.6" stroke="#ff8030" stroke-width="1.4" fill="none"/>
<rect x="304.6" y="866.6" width="8" height="8" fill="#ff8030"/>
<path d="M358.6 791.3V843.36" stroke="#ff8030" stroke-width="1.4" fill="none" stroke-dasharray="7,3.7,1.8,3.7"/><path d="M355.6 791.3H361.6M355.6 843.36H361.6" stroke="#ff8030" stroke-width="1.4" fill="none"/>
<rect x="354.6" y="811.4" width="8" height="8" fill="#ff8030"/>
<path d="M557.6 848.87V919.66" stroke="#ff8030" stroke-width="1.4" fill="none" stroke-dasharray="7,3.7,1.8,3.7"/><path d="M554.6 848.87H560.6M554.6 919.66H560.6" stroke="#ff8030" stroke-width="1.4" fill="none"/>
<rect x="553.6" y="876.7" width="8" height="8" fill="#ff8030"/>
<polyline points="107.5,765.4 114.6,764.4 121.4,791.4 130.3,788 141.2,788.8 155.3,810.8 173.4,760.5 196.6,804.3 227.3,839.8 264.8,823.4 308.6,868 358.6,865.3 557.6,895.2" fill="none" stroke="#00b000" stroke-width="1.7" stroke-dasharray="4.2,3.8"/>
<path d="M107.5 758.55V772.53" stroke="#00b000" stroke-width="1.4" fill="none" stroke-dasharray="4.2,3.8"/><path d="M104.5 758.55H110.5M104.5 772.53H110.5" stroke="#00b000" stroke-width="1.4" fill="none"/>
<path d="M103.1 761.4L111.9 761.4L107.5 769.6Z" fill="#00b000"/>
<path d="M114.6 756.55V772.62" stroke="#00b000" stroke-width="1.4" fill="none" stroke-dasharray="4.2,3.8"/><path d="M111.6 756.55H117.6M111.6 772.62H117.6" stroke="#00b000" stroke-width="1.4" fill="none"/>
<path d="M110.2 760.4L119 760.4L114.6 768.6Z" fill="#00b000"/>
<path d="M121.4 781.72V801.65" stroke="#00b000" stroke-width="1.4" fill="none" stroke-dasharray="4.2,3.8"/><path d="M118.4 781.72H124.4M118.4 801.65H124.4" stroke="#00b000" stroke-width="1.4" fill="none"/>
<path d="M117 787.4L125.8 787.4L121.4 795.6Z" fill="#00b000"/>
<path d="M130.3 776.35V800.48" stroke="#00b000" stroke-width="1.4" fill="none" stroke-dasharray="4.2,3.8"/><path d="M127.3 776.35H133.3M127.3 800.48H133.3" stroke="#00b000" stroke-width="1.4" fill="none"/>
<path d="M125.9 784L134.7 784L130.3 792.2Z" fill="#00b000"/>
<path d="M141.2 774.4V804.5" stroke="#00b000" stroke-width="1.4" fill="none" stroke-dasharray="4.2,3.8"/><path d="M138.2 774.4H144.2M138.2 804.5H144.2" stroke="#00b000" stroke-width="1.4" fill="none"/>
<path d="M136.8 784.8L145.6 784.8L141.2 793Z" fill="#00b000"/>
<path d="M155.3 796.4V826.5" stroke="#00b000" stroke-width="1.4" fill="none" stroke-dasharray="4.2,3.8"/><path d="M152.3 796.4H158.3M152.3 826.5H158.3" stroke="#00b000" stroke-width="1.4" fill="none"/>
<path d="M150.9 806.8L159.7 806.8L155.3 815Z" fill="#00b000"/>
<path d="M173.4 746.1V776.2" stroke="#00b000" stroke-width="1.4" fill="none" stroke-dasharray="4.2,3.8"/><path d="M170.4 746.1H176.4M170.4 776.2H176.4" stroke="#00b000" stroke-width="1.4" fill="none"/>
<path d="M169 756.5L177.8 756.5L173.4 764.7Z" fill="#00b000"/>
<path d="M196.6 789.9V820" stroke="#00b000" stroke-width="1.4" fill="none" stroke-dasharray="4.2,3.8"/><path d="M193.6 789.9H199.6M193.6 820H199.6" stroke="#00b000" stroke-width="1.4" fill="none"/>
<path d="M192.2 800.3L201 800.3L196.6 808.5Z" fill="#00b000"/>
<path d="M227.3 824.43V856.65" stroke="#00b000" stroke-width="1.4" fill="none" stroke-dasharray="4.2,3.8"/><path d="M224.3 824.43H230.3M224.3 856.65H230.3" stroke="#00b000" stroke-width="1.4" fill="none"/>
<path d="M222.9 835.8L231.7 835.8L227.3 844Z" fill="#00b000"/>
<path d="M264.8 808.03V840.25" stroke="#00b000" stroke-width="1.4" fill="none" stroke-dasharray="4.2,3.8"/><path d="M261.8 808.03H267.8M261.8 840.25H267.8" stroke="#00b000" stroke-width="1.4" fill="none"/>
<path d="M260.4 819.4L269.2 819.4L264.8 827.6Z" fill="#00b000"/>
<path d="M308.6 848.53V889.92" stroke="#00b000" stroke-width="1.4" fill="none" stroke-dasharray="4.2,3.8"/><path d="M305.6 848.53H311.6M305.6 889.92H311.6" stroke="#00b000" stroke-width="1.4" fill="none"/>
<path d="M304.2 864L313 864L308.6 872.2Z" fill="#00b000"/>
<path d="M358.6 841.2V893.26" stroke="#00b000" stroke-width="1.4" fill="none" stroke-dasharray="4.2,3.8"/><path d="M355.6 841.2H361.6M355.6 893.26H361.6" stroke="#00b000" stroke-width="1.4" fill="none"/>
<path d="M354.2 861.3L363 861.3L358.6 869.5Z" fill="#00b000"/>
<path d="M557.6 863.37V934.16" stroke="#00b000" stroke-width="1.4" fill="none" stroke-dasharray="4.2,3.8"/><path d="M554.6 863.37H560.6M554.6 934.16H560.6" stroke="#00b000" stroke-width="1.4" fill="none"/>
<path d="M553.2 891.2L562 891.2L557.6 899.4Z" fill="#00b000"/>
<polyline points="107.5,724.3 114.6,787.2 121.4,777 130.3,793.2 141.2,820.5 155.3,816.2 173.4,825.9 196.6,828.2 227.3,830.3 264.8,826.6 308.6,884.9 358.6,889.7 557.6,895.2" fill="none" stroke="#404040" stroke-width="1.7"/>
<path d="M107.5 717.45V731.43" stroke="#383838" stroke-width="1.4" fill="none"/><path d="M104.5 717.45H110.5M104.5 731.43H110.5" stroke="#383838" stroke-width="1.4" fill="none"/>
<circle cx="107.5" cy="724.3" r="4.1" fill="none" stroke="#383838" stroke-width="1.6"/>
<path d="M114.6 779.35V795.42" stroke="#383838" stroke-width="1.4" fill="none"/><path d="M111.6 779.35H117.6M111.6 795.42H117.6" stroke="#383838" stroke-width="1.4" fill="none"/>
<circle cx="114.6" cy="787.2" r="4.1" fill="none" stroke="#383838" stroke-width="1.6"/>
<path d="M121.4 767.32V787.25" stroke="#383838" stroke-width="1.4" fill="none"/><path d="M118.4 767.32H124.4M118.4 787.25H124.4" stroke="#383838" stroke-width="1.4" fill="none"/>
<circle cx="121.4" cy="777" r="4.1" fill="none" stroke="#383838" stroke-width="1.6"/>
<path d="M130.3 781.55V805.68" stroke="#383838" stroke-width="1.4" fill="none"/><path d="M127.3 781.55H133.3M127.3 805.68H133.3" stroke="#383838" stroke-width="1.4" fill="none"/>
<circle cx="130.3" cy="793.2" r="4.1" fill="none" stroke="#383838" stroke-width="1.6"/>
<path d="M141.2 806.1V836.2" stroke="#383838" stroke-width="1.4" fill="none"/><path d="M138.2 806.1H144.2M138.2 836.2H144.2" stroke="#383838" stroke-width="1.4" fill="none"/>
<circle cx="141.2" cy="820.5" r="4.1" fill="none" stroke="#383838" stroke-width="1.6"/>
<path d="M155.3 801.8V831.9" stroke="#383838" stroke-width="1.4" fill="none"/><path d="M152.3 801.8H158.3M152.3 831.9H158.3" stroke="#383838" stroke-width="1.4" fill="none"/>
<circle cx="155.3" cy="816.2" r="4.1" fill="none" stroke="#383838" stroke-width="1.6"/>
<path d="M173.4 811.5V841.6" stroke="#383838" stroke-width="1.4" fill="none"/><path d="M170.4 811.5H176.4M170.4 841.6H176.4" stroke="#383838" stroke-width="1.4" fill="none"/>
<circle cx="173.4" cy="825.9" r="4.1" fill="none" stroke="#383838" stroke-width="1.6"/>
<path d="M196.6 813.8V843.9" stroke="#383838" stroke-width="1.4" fill="none"/><path d="M193.6 813.8H199.6M193.6 843.9H199.6" stroke="#383838" stroke-width="1.4" fill="none"/>
<circle cx="196.6" cy="828.2" r="4.1" fill="none" stroke="#383838" stroke-width="1.6"/>
<path d="M227.3 814.93V847.15" stroke="#383838" stroke-width="1.4" fill="none"/><path d="M224.3 814.93H230.3M224.3 847.15H230.3" stroke="#383838" stroke-width="1.4" fill="none"/>
<circle cx="227.3" cy="830.3" r="4.1" fill="none" stroke="#383838" stroke-width="1.6"/>
<path d="M264.8 811.23V843.45" stroke="#383838" stroke-width="1.4" fill="none"/><path d="M261.8 811.23H267.8M261.8 843.45H267.8" stroke="#383838" stroke-width="1.4" fill="none"/>
<circle cx="264.8" cy="826.6" r="4.1" fill="none" stroke="#383838" stroke-width="1.6"/>
<path d="M308.6 865.43V906.82" stroke="#383838" stroke-width="1.4" fill="none"/><path d="M305.6 865.43H311.6M305.6 906.82H311.6" stroke="#383838" stroke-width="1.4" fill="none"/>
<circle cx="308.6" cy="884.9" r="4.1" fill="none" stroke="#383838" stroke-width="1.6"/>
<path d="M358.6 865.6V917.66" stroke="#383838" stroke-width="1.4" fill="none"/><path d="M355.6 865.6H361.6M355.6 917.66H361.6" stroke="#383838" stroke-width="1.4" fill="none"/>
<circle cx="358.6" cy="889.7" r="4.1" fill="none" stroke="#383838" stroke-width="1.6"/>
<path d="M557.6 863.37V934.16" stroke="#383838" stroke-width="1.4" fill="none"/><path d="M554.6 863.37H560.6M554.6 934.16H560.6" stroke="#383838" stroke-width="1.4" fill="none"/>
<circle cx="557.6" cy="895.2" r="4.1" fill="none" stroke="#383838" stroke-width="1.6"/>
</g>
<defs><clipPath id="cu"><rect x="90.9" y="35" width="651.5" height="600"/></clipPath>
<clipPath id="cl"><rect x="90.9" y="635" width="651.5" height="321"/></clipPath></defs>
<path d="M90.9 633.13H101.9M742.4 633.13H731.4M90.9 619.05H101.9M742.4 619.05H731.4M90.9 608.13H101.9M742.4 608.13H731.4M90.9 599.2H101.9M742.4 599.2H731.4M90.9 591.66H101.9M742.4 591.66H731.4M90.9 585.12H101.9M742.4 585.12H731.4M90.9 579.36H101.9M742.4 579.36H731.4M90.9 574.2H112.9M742.4 574.2H720.4M90.9 540.27H101.9M742.4 540.27H731.4M90.9 520.43H101.9M742.4 520.43H731.4M90.9 506.35H101.9M742.4 506.35H731.4M90.9 495.43H101.9M742.4 495.43H731.4M90.9 486.5H101.9M742.4 486.5H731.4M90.9 478.96H101.9M742.4 478.96H731.4M90.9 472.42H101.9M742.4 472.42H731.4M90.9 466.66H101.9M742.4 466.66H731.4M90.9 461.5H112.9M742.4 461.5H720.4M90.9 427.57H101.9M742.4 427.57H731.4M90.9 407.73H101.9M742.4 407.73H731.4M90.9 393.65H101.9M742.4 393.65H731.4M90.9 382.73H101.9M742.4 382.73H731.4M90.9 373.8H101.9M742.4 373.8H731.4M90.9 366.26H101.9M742.4 366.26H731.4M90.9 359.72H101.9M742.4 359.72H731.4M90.9 353.96H101.9M742.4 353.96H731.4M90.9 348.8H112.9M742.4 348.8H720.4M90.9 314.87H101.9M742.4 314.87H731.4M90.9 295.03H101.9M742.4 295.03H731.4M90.9 280.95H101.9M742.4 280.95H731.4M90.9 270.03H101.9M742.4 270.03H731.4M90.9 261.1H101.9M742.4 261.1H731.4M90.9 253.56H101.9M742.4 253.56H731.4M90.9 247.02H101.9M742.4 247.02H731.4M90.9 241.26H101.9M742.4 241.26H731.4M90.9 236.1H112.9M742.4 236.1H720.4M90.9 202.17H101.9M742.4 202.17H731.4M90.9 182.33H101.9M742.4 182.33H731.4M90.9 168.25H101.9M742.4 168.25H731.4M90.9 157.33H101.9M742.4 157.33H731.4M90.9 148.4H101.9M742.4 148.4H731.4M90.9 140.86H101.9M742.4 140.86H731.4M90.9 134.32H101.9M742.4 134.32H731.4M90.9 128.56H101.9M742.4 128.56H731.4M90.9 123.4H112.9M742.4 123.4H720.4M90.9 89.47H101.9M742.4 89.47H731.4M90.9 69.63H101.9M742.4 69.63H731.4M90.9 55.55H101.9M742.4 55.55H731.4M90.9 44.63H101.9M742.4 44.63H731.4M90.9 35.7H101.9M742.4 35.7H731.4M90.9 916.41H105.9M742.4 916.41H727.4M90.9 884.58H100.9M742.4 884.58H732.4M90.9 857.67H100.9M742.4 857.67H732.4M90.9 834.36H100.9M742.4 834.36H732.4M90.9 813.79H100.9M742.4 813.79H732.4M90.9 795.4H105.9M742.4 795.4H727.4M90.9 778.76H100.9M742.4 778.76H732.4M90.9 763.57H100.9M742.4 763.57H732.4M90.9 749.59H100.9M742.4 749.59H732.4M90.9 736.66H100.9M742.4 736.66H732.4M90.9 724.61H100.9M742.4 724.61H732.4M90.9 713.34H100.9M742.4 713.34H732.4M90.9 702.76H100.9M742.4 702.76H732.4M90.9 692.78H100.9M742.4 692.78H732.4M90.9 683.34H100.9M742.4 683.34H732.4M90.9 674.39H105.9M742.4 674.39H727.4M90.9 665.87H100.9M742.4 665.87H732.4M90.9 657.75H100.9M742.4 657.75H732.4M90.9 649.99H100.9M742.4 649.99H732.4M90.9 642.56H100.9M742.4 642.56H732.4M103.84 35V51M103.84 635V619M103.84 635V645M103.84 956V946M135.16 35V39.5M135.16 635V630.5M135.16 635V638M135.16 956V953M166.47 35V43M166.47 635V627M166.47 635V640.5M166.47 956V950.5M197.79 35V39.5M197.79 635V630.5M197.79 635V638M197.79 956V953M229.1 35V43M229.1 635V627M229.1 635V640.5M229.1 956V950.5M260.41 35V39.5M260.41 635V630.5M260.41 635V638M260.41 956V953M291.73 35V43M291.73 635V627M291.73 635V640.5M291.73 956V950.5M323.05 35V39.5M323.05 635V630.5M323.05 635V638M323.05 956V953M354.36 35V43M354.36 635V627M354.36 635V640.5M354.36 956V950.5M385.67 35V39.5M385.67 635V630.5M385.67 635V638M385.67 956V953M416.99 35V51M416.99 635V619M416.99 635V645M416.99 956V946M448.3 35V39.5M448.3 635V630.5M448.3 635V638M448.3 956V953M479.62 35V43M479.62 635V627M479.62 635V640.5M479.62 956V950.5M510.93 35V39.5M510.93 635V630.5M510.93 635V638M510.93 956V953M542.25 35V43M542.25 635V627M542.25 635V640.5M542.25 956V950.5M573.56 35V39.5M573.56 635V630.5M573.56 635V638M573.56 956V953M604.88 35V43M604.88 635V627M604.88 635V640.5M604.88 956V950.5M636.2 35V39.5M636.2 635V630.5M636.2 635V638M636.2 956V953M667.51 35V43M667.51 635V627M667.51 635V640.5M667.51 956V950.5M698.83 35V39.5M698.83 635V630.5M698.83 635V638M698.83 956V953M730.14 35V51M730.14 635V619M730.14 635V645M730.14 956V946" stroke="#000" stroke-width="1.35" fill="none"/>
<path d="M90 35H743.1M90 635H743.1M90 956H743.1" stroke="#000" stroke-width="1.9" fill="none"/>
<path d="M90.9 34.1V956.9" stroke="#000" stroke-width="1.8" fill="none"/>
<path d="M742.4 34.1V956.9" stroke="#000" stroke-width="1.5" fill="none"/>
<text x="103" y="29.3" font-size="24.3">13000 GeV pp</text>
<text x="731.6" y="29" font-size="24.5" text-anchor="end">Z+Jet</text>
<text x="110" y="87" font-size="24.55">CMS, 13 TeV, AK8 jets, Z+jet region, 186 &lt;p</text>
<text x="581" y="70.6" font-size="15.1">{jet</text>
<text x="580.5" y="99.6" font-size="15.5">T</text>
<text x="602.5" y="87" font-size="24.4">}&lt; 254 GeV</text>
<text x="71.2" y="133.9" font-size="23" text-anchor="end">10</text><text x="71" y="124.7" font-size="15">2</text>
<text x="79.6" y="244.8" font-size="23" text-anchor="end">10</text>
<text x="79.6" y="356.9" font-size="23" text-anchor="end">1</text>
<text x="65.4" y="472.1" font-size="23" text-anchor="end">10</text><text x="64.6" y="462.9" font-size="15">&#8722;1</text>
<text x="62.3" y="584.9" font-size="23" text-anchor="end">10</text><text x="61.4" y="575" font-size="15">&#8722;2</text>
<text x="77" y="682.7" font-size="23" text-anchor="end">2</text>
<text x="77" y="804.8" font-size="23" text-anchor="end">1</text>
<text x="77" y="925.2" font-size="23" text-anchor="end">0.5</text>
<text x="747.8" y="682.8" font-size="23">2</text>
<text x="747.8" y="804.8" font-size="23">1</text>
<text x="747.8" y="925.2" font-size="23">0.5</text>
<text x="103.5" y="978" font-size="23" text-anchor="middle">0</text>
<text x="417" y="977.8" font-size="23" text-anchor="middle">0.5</text>
<text x="730.5" y="977.9" font-size="23" text-anchor="middle">1</text>
<text x="753.5" y="1005.9" font-size="25.5" text-anchor="end">groomed width (charged-only)</text>
<text transform="translate(37.2 847.8) rotate(-90)" font-size="18.3">Ratio to CMS</text>
<text transform="translate(759.6 254.2) rotate(-90)" font-size="19" fill="#808080">Rivet 4.1.0, &#8805; 100k events</text>
<text transform="translate(761.5 629) rotate(-90)" font-size="19" fill="#808080">mcplots.cern.ch [arXiv:1306.3436]</text>
<text x="415.9" y="604.3" font-size="15.8" fill="#a0a0a0" text-anchor="middle">(CMS_2021_I1920187)</text>
<g font-size="24">
<text transform="translate(28 266.5) rotate(-90)">#</text>
<path d="M21.2 140.5V252.5" stroke="#000" stroke-width="1.7"/>
<text transform="translate(17.5 202) rotate(-90)">1</text>
<text transform="translate(41.5 246) rotate(-90)">d N /</text>
<text transform="translate(41.5 182) rotate(-90)">d p</text>
<text transform="translate(55.7 152) rotate(-90)" font-size="15">T</text>
<text transform="translate(28 140.5) rotate(-90)">#</text>
<path d="M21.1 35.3V127.7" stroke="#000" stroke-width="1.7"/>
<text transform="translate(16.7 96) rotate(-90)">d</text>
<text transform="translate(6.2 83.6) rotate(-90)" font-size="12">2</text>
<text transform="translate(16.7 74) rotate(-90)">N</text>
<text transform="translate(43 120.5) rotate(-90)">d p</text>
<text transform="translate(55.7 89) rotate(-90)" font-size="15">T</text>
<text transform="translate(43 64.2) rotate(-90)">d</text>
<text transform="translate(43 48.5) rotate(-90)">&#955;</text>
</g>
<rect x="147.44" y="390.44" width="11.13" height="11.13" fill="#000"/>
<text x="188" y="402.5" font-size="18.9">CMS</text>
<path d="M128.8 422.2H177.2" stroke="#9a0020" stroke-width="1.7"/>
<path d="M153 416.4L158.5 428L147.5 428Z" fill="none" stroke="#9a0020" stroke-width="1.7" stroke-linejoin="miter"/>
<text x="188" y="428.7" font-size="18.9">Pythia 6.428 370</text>
<path d="M128.8 448H177.2" stroke="#ff3c6e" stroke-width="1.7" stroke-dasharray="4.2,3.8"/>
<circle cx="153" cy="448" r="3.7" fill="none" stroke="#ff3c6e" stroke-width="1.4"/>
<text x="188" y="454.5" font-size="18.9">Pythia 6.428 atlas-csc</text>
<path d="M128.8 474H177.2" stroke="#0ccc88" stroke-width="1.7" stroke-dasharray="4.2,3.8"/>
<path d="M148.4 474L157.6 474M149.75 470.75L156.25 477.25M153 469.4L153 478.6M156.25 470.75L149.75 477.25" stroke="#0ccc88" stroke-width="1.6" fill="none"/>
<text x="188" y="480.5" font-size="18.9">Pythia 6.428 d6t</text>
<path d="M128.8 500H177.2" stroke="#ff8030" stroke-width="1.7" stroke-dasharray="7,3.7,1.8,3.7"/>
<rect x="149" y="496" width="8" height="8" fill="#ff8030"/>
<text x="188" y="506.5" font-size="18.9">Pythia 6.428 default</text>
<path d="M128.8 526H177.2" stroke="#00b000" stroke-width="1.7" stroke-dasharray="4.2,3.8"/>
<path d="M148.6 522L157.4 522L153 530.2Z" fill="#00b000"/>
<text x="188" y="532.5" font-size="18.9">Pythia 6.428 dw</text>
<path d="M128.8 552H177.2" stroke="#606060" stroke-width="1.7"/>
<circle cx="153" cy="552" r="4.1" fill="none" stroke="#383838" stroke-width="1.6"/>
<text x="188" y="558.5" font-size="18.9">Pythia 6.428 p0</text>
</svg></body></html>
